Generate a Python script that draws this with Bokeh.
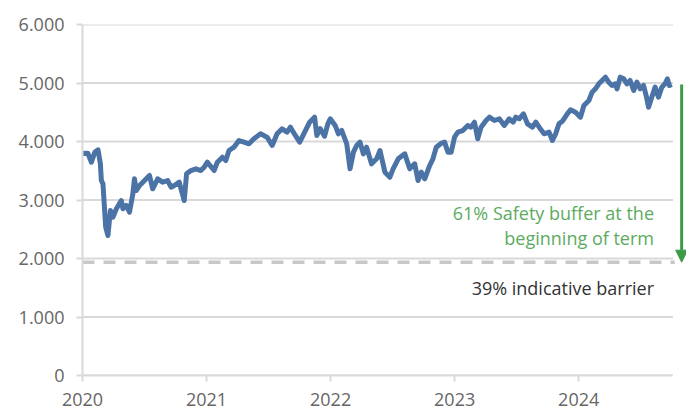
from bokeh.plotting import figure
from bokeh.models import (Arrow, NormalHead, Label, FixedTicker,
                          CustomJSTickFormatter, Range1d)
from bokeh.embed import file_html
from bokeh.resources import INLINE

# ---- data (decimal years, index level) ----
years = [
    2020.000, 2020.043, 2020.072, 2020.099, 2020.125, 2020.144, 2020.152, 2020.165,
    2020.187, 2020.205, 2020.225, 2020.245, 2020.273, 2020.313, 2020.326, 2020.353,
    2020.379, 2020.406, 2020.419, 2020.433, 2020.460, 2020.500, 2020.540, 2020.566,
    2020.606, 2020.646, 2020.687, 2020.714, 2020.740, 2020.780, 2020.794, 2020.820,
    2020.839, 2020.874, 2020.914, 2020.954, 2020.981, 2021.007, 2021.061, 2021.087,
    2021.128, 2021.155, 2021.181, 2021.221, 2021.261, 2021.302, 2021.342, 2021.382,
    2021.435, 2021.488, 2021.529, 2021.569, 2021.609, 2021.649, 2021.676, 2021.716,
    2021.751, 2021.791, 2021.831, 2021.871, 2021.889, 2021.917, 2021.951, 2021.978,
    2021.997, 2022.037, 2022.063, 2022.090, 2022.130, 2022.157, 2022.184, 2022.210,
    2022.237, 2022.264, 2022.290, 2022.330, 2022.371, 2022.398, 2022.438, 2022.478,
    2022.504, 2022.545, 2022.598, 2022.638, 2022.678, 2022.705, 2022.731, 2022.759,
    2022.799, 2022.825, 2022.852, 2022.892, 2022.919, 2022.946, 2022.972, 2022.999,
    2023.026, 2023.066, 2023.106, 2023.132, 2023.160, 2023.186, 2023.213, 2023.253,
    2023.280, 2023.320, 2023.360, 2023.400, 2023.440, 2023.471, 2023.493, 2023.521,
    2023.555, 2023.587, 2023.627, 2023.654, 2023.681, 2023.721, 2023.761, 2023.788,
    2023.814, 2023.841, 2023.868, 2023.908, 2023.934, 2023.974, 2024.014, 2024.042,
    2024.082, 2024.108, 2024.135, 2024.162, 2024.189, 2024.215, 2024.242, 2024.269,
    2024.295, 2024.309, 2024.335, 2024.363, 2024.389, 2024.415, 2024.443, 2024.469,
    2024.496, 2024.523, 2024.544, 2024.563, 2024.589, 2024.616, 2024.643, 2024.670,
    2024.696, 2024.715, 2024.731, 2024.750,
]
index_level = [
    3795, 3800, 3646, 3817, 3858, 3624, 3333, 3277,
    2535, 2393, 2820, 2706, 2849, 2991, 2849, 2906,
    2792, 3106, 3362, 3162, 3248, 3333, 3419, 3191,
    3362, 3305, 3333, 3219, 3248, 3305, 3191, 2991,
    3447, 3504, 3533, 3504, 3561, 3646, 3504, 3646,
    3732, 3675, 3846, 3903, 4017, 3989, 3960, 4046,
    4131, 4074, 3932, 4131, 4217, 4160, 4245, 4103,
    3989, 4160, 4330, 4416, 4103, 4220, 4090, 4302,
    4388, 4274, 4131, 4188, 3960, 3533, 3817, 3932,
    3989, 3789, 3903, 3618, 3704, 3846, 3476, 3390,
    3533, 3704, 3789, 3533, 3618, 3333, 3476, 3362,
    3590, 3704, 3903, 3970, 3989, 3817, 3817, 4074,
    4160, 4188, 4274, 4245, 4330, 4046, 4245, 4359,
    4416, 4359, 4388, 4274, 4388, 4330, 4416, 4388,
    4473, 4302, 4245, 4330, 4245, 4131, 4160, 4017,
    4131, 4302, 4345, 4473, 4541, 4501, 4416, 4615,
    4701, 4843, 4900, 4986, 5043, 5100, 5014, 4957,
    4986, 4900, 5100, 5071, 4986, 5043, 4872, 5014,
    4900, 4957, 4786, 4586, 4758, 4929, 4758, 4929,
    4986, 5071, 4957, 4975,
]
barrier_level = 1937
y_ticks = [0, 1000, 2000, 3000, 4000, 5000, 6000]
x_ticks = [2020, 2021, 2022, 2023, 2024]
buffer_text = ["61% Safety buffer at the", "beginning of term"]
barrier_text = "39% indicative barrier"

FONT = "Open Sans"
GRID = "#d9d9d9"
BLUE = "#4c73a6"
GREEN_TXT = "#5cab60"
GREEN_ARR = "#3d9b47"

axis_end = 2024.76      # where the axis / grid lines stop
frame_end = 2024.869    # frame extends a bit further to hold the arrow

p = figure(width=686, height=424, output_backend="svg", toolbar_location=None,
           x_range=Range1d(2020, frame_end), y_range=Range1d(0, 6000),
           min_border_left=82, min_border_right=0, min_border_top=24,
           min_border_bottom=49)
p.outline_line_color = None
p.background_fill_color = "white"

# axes
for ax in (p.xaxis[0], p.yaxis[0]):
    ax.axis_line_color = GRID
    ax.axis_line_width = 2
    ax.major_tick_line_color = GRID
    ax.major_tick_line_width = 2
    ax.major_tick_in = 0
    ax.major_tick_out = 6
    ax.minor_tick_line_color = None
    ax.major_label_text_font = FONT
    ax.major_label_text_font_size = "18px"
    ax.major_label_text_color = "#666666"

p.xaxis[0].ticker = FixedTicker(ticks=x_ticks)
p.xaxis[0].formatter = CustomJSTickFormatter(code="return tick.toFixed(0);")
p.xaxis[0].major_label_standoff = 11
p.xaxis[0].bounds = (2020, axis_end)
p.yaxis[0].ticker = FixedTicker(ticks=y_ticks)
p.yaxis[0].formatter = CustomJSTickFormatter(
    code="return tick.toFixed(0).replace(/\\B(?=(\\d{3})+(?!\\d))/g, '.');")
p.yaxis[0].major_label_standoff = 12

# horizontal grid lines (stop at the axis end)
p.xgrid.grid_line_color = None
p.ygrid.grid_line_color = None
p.segment(x0=[2020] * len(y_ticks), x1=[axis_end] * len(y_ticks),
          y0=y_ticks, y1=y_ticks, line_color=GRID, line_width=2, level="underlay")

# barrier
p.segment(x0=[2020], x1=[axis_end + 0.015], y0=[barrier_level], y1=[barrier_level],
          line_color="#c8c8c8", line_width=3.5, line_dash="12 9")

# series
p.line(years, index_level, line_color=BLUE, line_width=5, line_join="round")

# arrow
arrow_x = 2024.83
p.add_layout(Arrow(x_start=arrow_x, y_start=index_level[-1], x_end=arrow_x,
                   y_end=barrier_level, line_color=GREEN_ARR, line_width=3,
                   end=NormalHead(size=12, fill_color=GREEN_ARR,
                                  line_color=GREEN_ARR)))

# annotations
tx = 2024.607
p.add_layout(Label(x=tx, y=2786, text=buffer_text[0], text_align="right",
                   text_baseline="middle", text_font=FONT,
                   text_font_size="18px", text_color=GREEN_TXT))
p.add_layout(Label(x=tx, y=2342, text=buffer_text[1], text_align="right",
                   text_baseline="middle", text_font=FONT,
                   text_font_size="18px", text_color=GREEN_TXT))
p.add_layout(Label(x=tx, y=1504, text=barrier_text, text_align="right",
                   text_baseline="middle", text_font=FONT,
                   text_font_size="18px", text_color="#333333"))

open("out.html", "w").write(file_html(p, INLINE))
